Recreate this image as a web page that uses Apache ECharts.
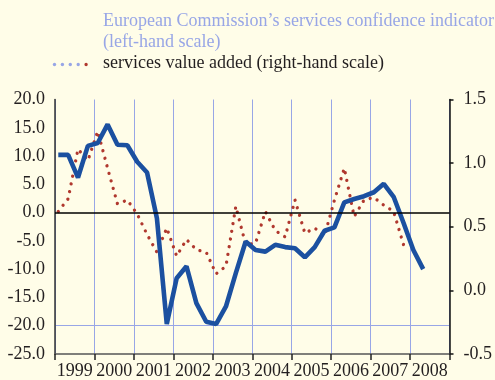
<!DOCTYPE html>
<html>
<head>
<meta charset="utf-8">
<script src="https://cdn.jsdelivr.net/npm/echarts@6/dist/echarts.min.js"></script>
<style>
  html, body { margin: 0; padding: 0; background: #fffde8; }
  #chart { width: 495px; height: 380px; }
</style>
</head>
<body>
<div id="chart"></div>
<script>
// Calendar years on the horizontal axis
const years = ['1999', '2000', '2001', '2002', '2003', '2004', '2005', '2006', '2007', '2008'];

// Quarterly observations, 1999Q1 onwards
const quarters = [];
years.forEach(y => { for (let q = 1; q <= 4; q++) quarters.push(y + 'Q' + q); });

// European Commission's services confidence indicator (balance, left-hand scale)
const confidence = [10.2, 10.2, 6.2, 11.8, 12.3, 15.6, 12.0, 11.9, 9.0, 7.1,
  -1.0, -19.7, -11.6, -9.5, -16.0, -19.3, -19.7, -16.6, -10.7, -5.1,
  -6.6, -6.9, -5.7, -6.1, -6.3, -7.9, -6.1, -3.2, -2.6, 1.8,
  2.4, 2.9, 3.6, 5.1, 2.8, -1.8, -6.6, -10.0];

// Services value added (quarter-on-quarter % change, right-hand scale)
const valueAdded = [0.62, 0.72, 1.11, 1.02, 1.25, 0.96, 0.68, 0.71, 0.60, 0.44,
  0.30, 0.49, 0.27, 0.40, 0.32, 0.30, 0.13, 0.19, 0.66, 0.36,
  0.37, 0.62, 0.47, 0.42, 0.71, 0.45, 0.49, 0.43, 0.71, 0.96,
  0.58, 0.71, 0.73, 0.67, 0.62, 0.36];

// Axis ranges
const leftMin = -25, leftMax = 20, leftStep = 5;
const rightMin = -0.5, rightMax = 1.5, rightStep = 0.5;
const xMin = 1999, xMax = 2009;

// Each quarter is plotted at the middle month of the quarter
function quarterPos(label) {
  return +label.slice(0, 4) + (+label.slice(5) - 1) / 4 + 1 / 12;
}
const pairs = (vals) => vals.map((v, i) => [quarterPos(quarters[i]), v]);

const FONT = 'Liberation Serif';
const TEXT = '#231f20';
const GRID_COLOR = '#98a6e6';
const BLUE = '#1b50a0';
const RED = '#b0382e';
const oneDecimal = (v) => v.toFixed(1);

const chart = echarts.init(document.getElementById('chart'));

chart.setOption({
  backgroundColor: '#fffde8',
  animation: false,
  grid: { left: 55, right: 41, top: 99.5, bottom: 26 },
  xAxis: [
    {
      // quarterly positions, also supplies the yearly vertical rules
      type: 'value', min: xMin, max: xMax, interval: 1,
      axisLine: { show: false }, axisTick: { show: false }, axisLabel: { show: false },
      splitLine: { show: true, lineStyle: { color: GRID_COLOR, width: 1 } }
    },
    {
      // year labels centred in each year
      type: 'category', data: years, boundaryGap: true, position: 'bottom',
      axisLine: { show: true, onZero: false, lineStyle: { color: '#555', width: 1.5 } },
      axisTick: { show: true, interval: 0, length: 6, lineStyle: { color: '#222', width: 1.5 } },
      axisLabel: { interval: 0, fontFamily: FONT, fontSize: 18, color: TEXT, margin: 8 },
      splitLine: { show: false }
    }
  ],
  yAxis: [
    {
      type: 'value', position: 'left', min: leftMin, max: leftMax, interval: leftStep,
      axisLine: { show: true, lineStyle: { color: '#333', width: 1.5 } },
      axisTick: { show: false },
      axisLabel: { fontFamily: FONT, fontSize: 18, color: TEXT, margin: 10, formatter: oneDecimal },
      splitLine: { show: false }
    },
    {
      type: 'value', position: 'right', min: rightMin, max: rightMax, interval: rightStep,
      axisLine: { show: true, lineStyle: { color: '#111', width: 1.5 } },
      axisTick: { show: true, length: 4, lineStyle: { color: '#111', width: 1.5 } },
      axisLabel: { fontFamily: FONT, fontSize: 18, color: TEXT, margin: 14, formatter: oneDecimal },
      splitLine: { show: false }
    }
  ],
  series: [
    {
      name: 'services value added (right-hand scale)',
      type: 'line', xAxisIndex: 0, yAxisIndex: 1,
      data: pairs(valueAdded), symbol: 'none',
      lineStyle: { color: RED, width: 3.3, type: [0.01, 7.8], cap: 'round' }
    },
    {
      name: 'European Commission\u2019s services confidence indicator (left-hand scale)',
      type: 'line', xAxisIndex: 0, yAxisIndex: 0,
      data: pairs(confidence), symbol: 'none',
      lineStyle: { color: BLUE, width: 4.6 },
      markLine: {
        silent: true, symbol: 'none', label: { show: false },
        lineStyle: { color: '#000', width: 1.5, type: 'solid' },
        data: [{ yAxis: 0 }]
      }
    }
  ],
  graphic: [
    { id: 'key-blue', type: 'rect', shape: { x: 53, y: 19, width: 35, height: 5 }, style: { fill: BLUE } },
    { id: 'key-text-1', type: 'text', left: 103, top: 12,
      style: { text: 'European Commission\u2019s services confidence indicator', font: '18px "Liberation Serif"', fill: TEXT } },
    { id: 'key-text-2', type: 'text', left: 103, top: 33,
      style: { text: '(left-hand scale)', font: '18px "Liberation Serif"', fill: TEXT } },
    { id: 'key-red', type: 'group', children: [0, 1, 2, 3, 4].map(k => ({
        type: 'circle', shape: { cx: 54.5 + k * 7.9, cy: 64.5, r: 1.7 }, style: { fill: RED } })) },
    { id: 'key-text-3', type: 'text', left: 103, top: 54,
      style: { text: 'services value added (right-hand scale)', font: '18px "Liberation Serif"', fill: TEXT } }
  ]
});

// Horizontal rules at each left-hand tick (zero excepted), placed through the axis scales
const xLeft = chart.convertToPixel({ xAxisIndex: 0 }, xMin);
const xRight = chart.convertToPixel({ xAxisIndex: 0 }, xMax);
const rules = [];
for (let v = leftMin + leftStep; v <= leftMax; v += leftStep) {
  if (v === 0) continue;
  const py = Math.round(chart.convertToPixel({ yAxisIndex: 0 }, v) - 0.5);
  rules.push({
    type: 'rect', silent: true,
    shape: { x: Math.round(xLeft) + 1, y: py, width: Math.round(xRight - xLeft) - 1, height: 1 },
    style: { fill: GRID_COLOR }
  });
}
chart.setOption({
  graphic: [{ id: 'rules', type: 'group', z: 1, silent: true, children: rules }]
});
</script>
</body>
</html>
